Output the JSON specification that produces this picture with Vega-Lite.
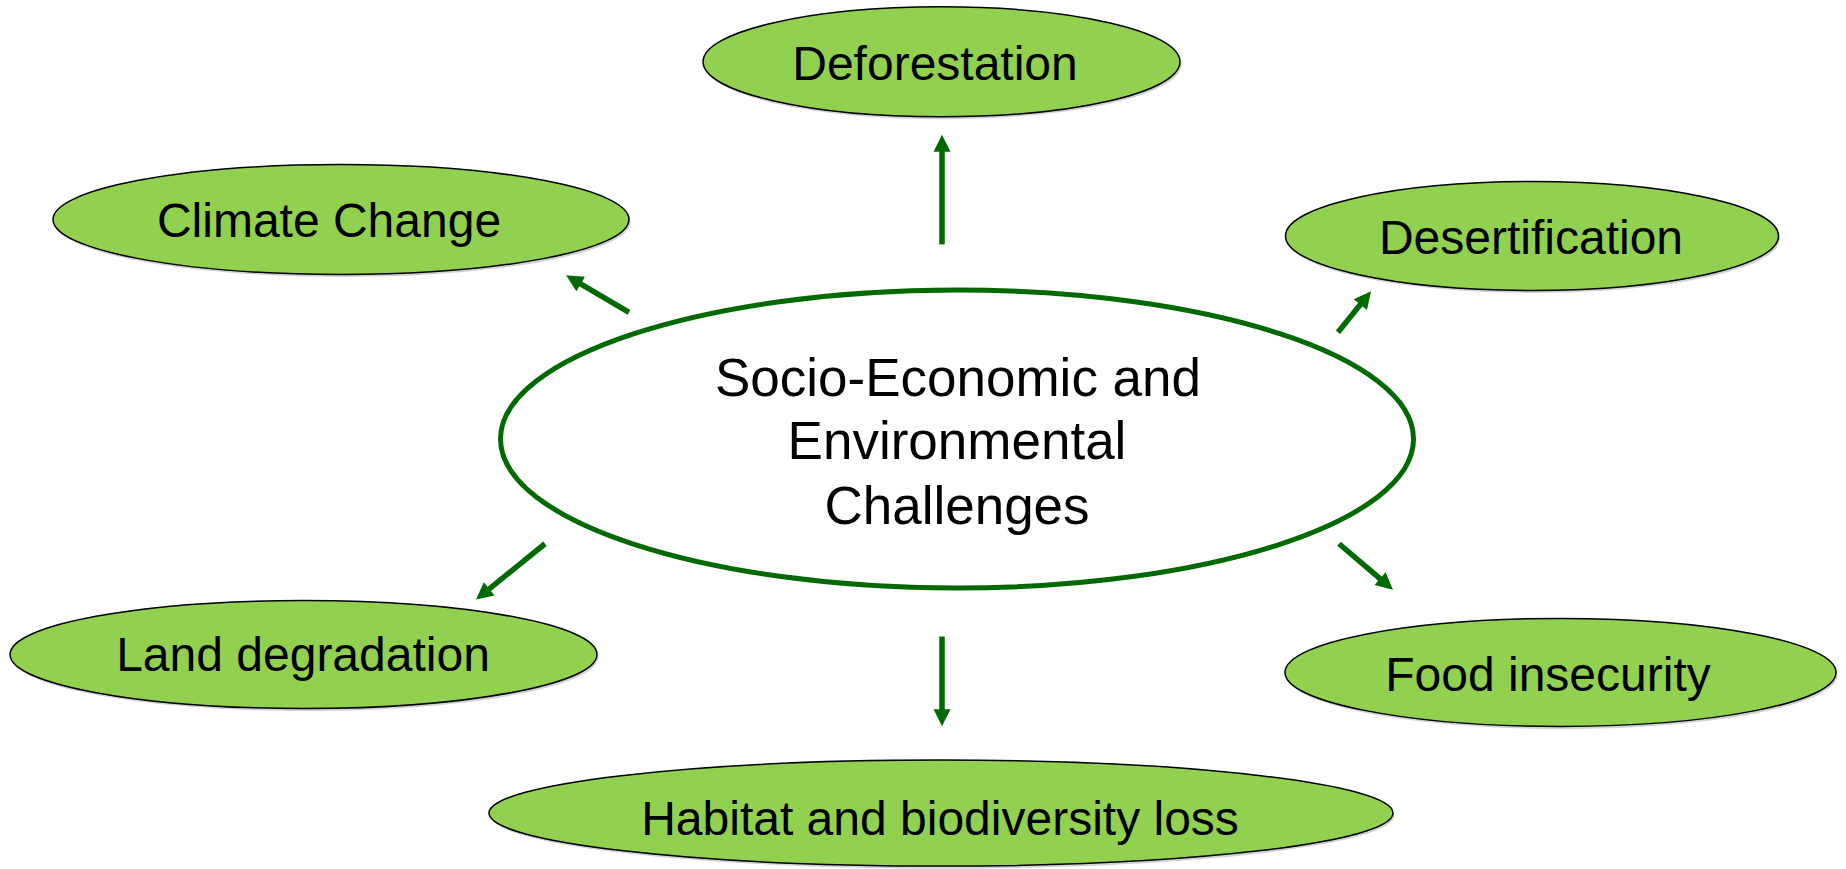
{
  "$schema": "https://vega.github.io/schema/vega-lite/v6.json",
  "width": 1846,
  "height": 869,
  "padding": 0,
  "autosize": {"type": "fit", "contains": "padding"},
  "background": "white",
  "config": {"view": {"stroke": null}},
  "datasets": {
    "nodes": [
      {"node": "Deforestation", "x": 941.5, "y": 62},
      {"node": "Climate Change", "x": 341, "y": 220},
      {"node": "Desertification", "x": 1532, "y": 236.5},
      {"node": "Land degradation", "x": 303.5, "y": 656},
      {"node": "Food insecurity", "x": 1560.5, "y": 674},
      {"node": "Habitat and biodiversity loss", "x": 941, "y": 815}
    ],
    "hub": [
      {"node": "Socio-Economic and Environmental Challenges", "x": 957, "y": 440}
    ],
    "labels": [
      {"label": "Deforestation", "kind": "outer", "x": 935, "y": 80},
      {"label": "Climate Change", "kind": "outer", "x": 329, "y": 238},
      {"label": "Desertification", "kind": "outer", "x": 1531, "y": 255},
      {"label": "Land degradation", "kind": "outer", "x": 303, "y": 673},
      {"label": "Food insecurity", "kind": "outer", "x": 1548, "y": 693},
      {"label": "Habitat and biodiversity loss", "kind": "outer", "x": 940, "y": 837},
      {"label": "Socio-Economic and", "kind": "hub", "x": 958, "y": 397},
      {"label": "Environmental", "kind": "hub", "x": 957, "y": 460},
      {"label": "Challenges", "kind": "hub", "x": 957, "y": 525}
    ],
    "arrows": [
      {"target": "Deforestation", "x": 942, "y": 245, "x2": 942, "y2": 135},
      {"target": "Climate Change", "x": 629, "y": 313, "x2": 566, "y2": 276},
      {"target": "Desertification", "x": 1338, "y": 333, "x2": 1371, "y2": 292},
      {"target": "Land degradation", "x": 545, "y": 545, "x2": 476, "y2": 601},
      {"target": "Food insecurity", "x": 1339, "y": 545, "x2": 1393, "y2": 591},
      {"target": "Habitat and biodiversity loss", "x": 942, "y": 638, "x2": 942, "y2": 728}
    ]
  },
  "layer": [
    {
      "data": {"name": "nodes"},
      "mark": {"type": "point", "filled": true, "fill": "#000000", "stroke": null, "opacity": 0.18, "size": 4, "xOffset": 1.5, "yOffset": 2.5},
      "encoding": {
        "x": {"field": "x", "type": "quantitative", "scale": {"domain": [0, 1846]}, "axis": null},
        "y": {"field": "y", "type": "quantitative", "scale": {"domain": [0, 869], "reverse": true}, "axis": null},
        "shape": {
          "field": "node",
          "type": "nominal",
          "legend": null,
          "scale": {
            "domain": ["Deforestation", "Climate Change", "Desertification", "Land degradation", "Food insecurity", "Habitat and biodiversity loss"],
            "range": [
              "M -238.5 0 C -238.5 -30.38 -131.72 -55 0 -55 C 131.72 -55 238.5 -30.38 238.5 0 C 238.5 30.38 131.72 55 0 55 C -131.72 55 -238.5 30.38 -238.5 0 Z",
              "M -288 0 C -288 -30.38 -159.06 -55 0 -55 C 159.06 -55 288 -30.38 288 0 C 288 30.38 159.06 55 0 55 C -159.06 55 -288 30.38 -288 0 Z",
              "M -246.5 0 C -246.5 -30.1 -136.14 -54.5 0 -54.5 C 136.14 -54.5 246.5 -30.1 246.5 0 C 246.5 30.1 136.14 54.5 0 54.5 C -136.14 54.5 -246.5 30.1 -246.5 0 Z",
              "M -293.5 0 C -293.5 -29.82 -162.1 -54 0 -54 C 162.1 -54 293.5 -29.82 293.5 0 C 293.5 29.82 162.1 54 0 54 C -162.1 54 -293.5 29.82 -293.5 0 Z",
              "M -275.5 0 C -275.5 -29.82 -152.16 -54 0 -54 C 152.16 -54 275.5 -29.82 275.5 0 C 275.5 29.82 152.16 54 0 54 C -152.16 54 -275.5 29.82 -275.5 0 Z",
              "M -452 0 C -452 -29.27 -249.64 -53 0 -53 C 249.64 -53 452 -29.27 452 0 C 452 29.27 249.64 53 0 53 C -249.64 53 -452 29.27 -452 0 Z"
            ]
          }
        }
      }
    },
    {
      "data": {"name": "nodes"},
      "mark": {"type": "point", "filled": true, "fill": "#92D050", "stroke": "#000000", "strokeWidth": 1.5, "opacity": 1, "size": 4},
      "encoding": {
        "x": {"field": "x", "type": "quantitative", "scale": {"domain": [0, 1846]}, "axis": null},
        "y": {"field": "y", "type": "quantitative", "scale": {"domain": [0, 869], "reverse": true}, "axis": null},
        "shape": {
          "field": "node",
          "type": "nominal",
          "legend": null,
          "scale": {
            "domain": ["Deforestation", "Climate Change", "Desertification", "Land degradation", "Food insecurity", "Habitat and biodiversity loss"],
            "range": [
              "M -238.5 0 C -238.5 -30.38 -131.72 -55 0 -55 C 131.72 -55 238.5 -30.38 238.5 0 C 238.5 30.38 131.72 55 0 55 C -131.72 55 -238.5 30.38 -238.5 0 Z",
              "M -288 0 C -288 -30.38 -159.06 -55 0 -55 C 159.06 -55 288 -30.38 288 0 C 288 30.38 159.06 55 0 55 C -159.06 55 -288 30.38 -288 0 Z",
              "M -246.5 0 C -246.5 -30.1 -136.14 -54.5 0 -54.5 C 136.14 -54.5 246.5 -30.1 246.5 0 C 246.5 30.1 136.14 54.5 0 54.5 C -136.14 54.5 -246.5 30.1 -246.5 0 Z",
              "M -293.5 0 C -293.5 -29.82 -162.1 -54 0 -54 C 162.1 -54 293.5 -29.82 293.5 0 C 293.5 29.82 162.1 54 0 54 C -162.1 54 -293.5 29.82 -293.5 0 Z",
              "M -275.5 0 C -275.5 -29.82 -152.16 -54 0 -54 C 152.16 -54 275.5 -29.82 275.5 0 C 275.5 29.82 152.16 54 0 54 C -152.16 54 -275.5 29.82 -275.5 0 Z",
              "M -452 0 C -452 -29.27 -249.64 -53 0 -53 C 249.64 -53 452 -29.27 452 0 C 452 29.27 249.64 53 0 53 C -249.64 53 -452 29.27 -452 0 Z"
            ]
          }
        }
      }
    },
    {
      "data": {"name": "hub"},
      "mark": {"type": "point", "filled": true, "fill": "#ffffff", "stroke": "#006a00", "strokeWidth": 5, "opacity": 1, "size": 4,
        "shape": "M -456.5 0 C -456.5 -82.29 -252.12 -149 0 -149 C 252.12 -149 456.5 -82.29 456.5 0 C 456.5 82.29 252.12 149 0 149 C -252.12 149 -456.5 82.29 -456.5 0 Z"},
      "encoding": {
        "x": {"field": "x", "type": "quantitative", "scale": {"domain": [0, 1846]}, "axis": null},
        "y": {"field": "y", "type": "quantitative", "scale": {"domain": [0, 869], "reverse": true}, "axis": null}
      }
    },
    {
      "data": {"name": "arrows"},
      "transform": [
        {"calculate": "atan2(datum.y2 - datum.y, datum.x2 - datum.x)", "as": "rad"},
        {"calculate": "datum.x2 - 14 * cos(datum.rad)", "as": "bx"},
        {"calculate": "datum.y2 - 14 * sin(datum.rad)", "as": "by"}
      ],
      "mark": {"type": "rule", "stroke": "#006a00", "strokeWidth": 5.5, "strokeCap": "butt"},
      "encoding": {
        "x": {"field": "x", "type": "quantitative", "scale": {"domain": [0, 1846]}, "axis": null},
        "y": {"field": "y", "type": "quantitative", "scale": {"domain": [0, 869], "reverse": true}, "axis": null},
        "x2": {"field": "bx"},
        "y2": {"field": "by"}
      }
    },
    {
      "data": {"name": "arrows"},
      "transform": [
        {"calculate": "atan2(datum.y2 - datum.y, datum.x2 - datum.x) * 180 / PI", "as": "ang"}
      ],
      "mark": {"type": "point", "filled": true, "fill": "#006a00", "stroke": null, "opacity": 1, "size": 4, "shape": "M 0 0 L -17 -8.5 L -17 8.5 Z"},
      "encoding": {
        "x": {"field": "x2", "type": "quantitative", "scale": {"domain": [0, 1846]}, "axis": null},
        "y": {"field": "y2", "type": "quantitative", "scale": {"domain": [0, 869], "reverse": true}, "axis": null},
        "angle": {"field": "ang", "type": "quantitative", "scale": null}
      }
    },
    {
      "data": {"name": "labels"},
      "transform": [{"filter": "datum.kind === 'outer'"}],
      "mark": {"type": "text", "align": "center", "baseline": "alphabetic", "font": "Liberation Sans", "fontSize": 48, "color": "#000000"},
      "encoding": {
        "x": {"field": "x", "type": "quantitative", "scale": {"domain": [0, 1846]}, "axis": null},
        "y": {"field": "y", "type": "quantitative", "scale": {"domain": [0, 869], "reverse": true}, "axis": null},
        "text": {"field": "label"}
      }
    },
    {
      "data": {"name": "labels"},
      "transform": [{"filter": "datum.kind === 'hub'"}],
      "mark": {"type": "text", "align": "center", "baseline": "alphabetic", "font": "Liberation Sans", "fontSize": 53, "color": "#000000"},
      "encoding": {
        "x": {"field": "x", "type": "quantitative", "scale": {"domain": [0, 1846]}, "axis": null},
        "y": {"field": "y", "type": "quantitative", "scale": {"domain": [0, 869], "reverse": true}, "axis": null},
        "text": {"field": "label"}
      }
    }
  ]
}
